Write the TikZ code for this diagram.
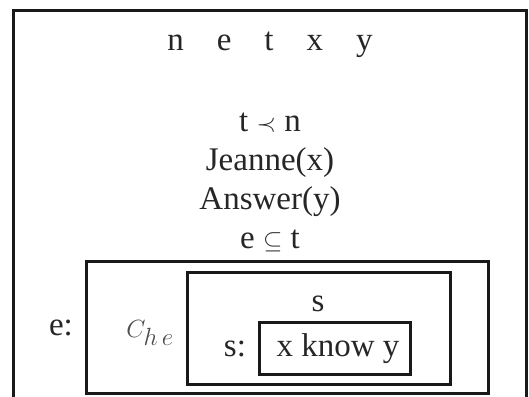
\documentclass[tikz,border=0pt]{standalone}
\usepackage{fontspec}
\setmainfont{Liberation Serif}
\begin{document}
\begin{tikzpicture}[x=1pt,y=-1pt,
  box/.style={draw=black!90,line width=3pt},
  txt/.style={anchor=base,inner sep=0pt,text=black!85,font=\fontsize{33}{40}\selectfont}]
\useasboundingbox (0,0) rectangle (529,396);
\clip (0,0) rectangle (529,396);
% outer box (open at bottom, continues beyond the picture)
\draw[box] (13,402) -- (13,11) -- (526,11) -- (526,402);
% e box
\draw[box] (86,261) rectangle (488,393);
% s box
\draw[box] (187,272) rectangle (450,384);
% inner box
\draw[box] (259,322) rectangle (410,374);
% texts
\node[txt] (vars) at (270,51) {n\quad e\quad t\quad x\quad y};
\node[txt] (c1) at (270,131) {t $\prec$ n};
\node[txt] (c2) at (270,170) {Jeanne(x)};
\node[txt] (c3) at (270,209) {Answer(y)};
\node[txt] (c4) at (270,248) {e $\subseteq$ t};
\node[txt] (elab) at (61,335) {e:};
\node[txt,text=black!70] (che) at (150,337) {$C_{h\,e}$};
\node[txt] (svar) at (318,311) {s};
\node[txt] (slab) at (235,356) {s:};
\node[txt] (know) at (338,356) {x know y};
\end{tikzpicture}
\end{document}
